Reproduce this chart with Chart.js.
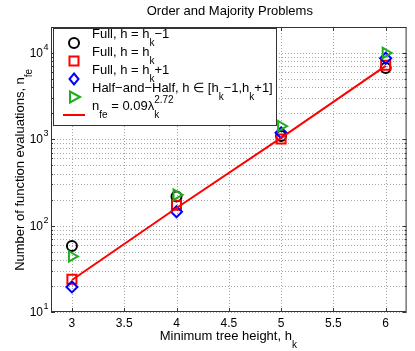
<!DOCTYPE html>
<html>
<head>
<meta charset="utf-8">
<script src="https://cdn.jsdelivr.net/npm/chart.js@4.4.1/dist/chart.umd.min.js"></script>
<style>
  html, body { margin: 0; padding: 0; background: #fff; }
  #wrap { width: 415px; height: 351px; }
</style>
</head>
<body>
<div id="wrap"><canvas id="chart" width="415" height="351"></canvas></div>
<script>
// ── DATA ──
const heights = [3, 4, 5, 6];
const fullMinus = [58, 218, 1090, 6700];   // Full, h = hk-1
const fullEq = [24, 172, 1010, 7200];      // Full, h = hk
const fullPlus = [19.5, 145, 1190, 8700];  // Full, h = hk+1
const halfHalf = [44, 228, 1420, 10000];   // Half-and-Half
const fitLine = [23.5, 160, 1040, 7100];   // nfe = 0.09 λk^2.72

const xTicks = [3, 3.5, 4, 4.5, 5, 5.5, 6];
const yMajor = [10, 100, 1000, 10000];
const yMinorSteps = [2, 3, 4, 5, 6, 7, 8, 9];

const FONT = '"Liberation Sans", Arial, Helvetica, sans-serif';
const GREEN = '#1fae1f';

// grid positions for the log axis (majors + 2..9 minors)
const yGrid = [];
yMajor.forEach(m => {
  yGrid.push(m);
  yMinorSteps.forEach(s => { if (m * s <= 20000) yGrid.push(m * s); });
});

function pts(vals) {
  return vals.map((v, i) => ({ x: heights[i], y: v }));
}

// ── HELPERS ──

// parts: [text, mode] mode: n normal, s sub, p sup, sp sub+sup stacked
function richText(ctx, x, y, parts, size) {
  const small = Math.round(size * 0.77);
  parts.forEach(([t, m, t2]) => {
    if (m === 'n') {
      ctx.font = size + 'px ' + FONT;
      ctx.fillText(t, x, y);
      x += ctx.measureText(t).width;
    } else if (m === 's') {
      ctx.font = small + 'px ' + FONT;
      ctx.fillText(t, x, y + 8);
      x += ctx.measureText(t).width;
    } else if (m === 'p') {
      ctx.font = small + 'px ' + FONT;
      ctx.fillText(t, x, y - 7);
      x += ctx.measureText(t).width;
    } else if (m === 'sp') {
      ctx.font = small + 'px ' + FONT;
      ctx.fillText(t, x, y + 8);
      ctx.fillText(t2, x, y - 7);
      x += Math.max(ctx.measureText(t).width, ctx.measureText(t2).width);
    }
  });
  return x;
}

function marker(ctx, kind, x, y) {
  ctx.save();
  ctx.lineWidth = 2;
  ctx.beginPath();
  if (kind === 'circle') {
    ctx.strokeStyle = '#000';
    ctx.arc(x, y, 5, 0, Math.PI * 2);
  } else if (kind === 'rect') {
    ctx.strokeStyle = '#ff0000';
    ctx.rect(x - 4.5, y - 4.5, 9, 9);
  } else if (kind === 'diamond') {
    ctx.strokeStyle = '#0000ff';
    ctx.moveTo(x, y - 5.5); ctx.lineTo(x + 4.5, y); ctx.lineTo(x, y + 5.5); ctx.lineTo(x - 4.5, y); ctx.closePath();
  } else if (kind === 'tri') {
    ctx.strokeStyle = GREEN;
    ctx.moveTo(x + 6, y); ctx.lineTo(x - 4, y - 5.5); ctx.lineTo(x - 4, y + 5.5); ctx.closePath();
  } else if (kind === 'line') {
    ctx.strokeStyle = '#ff0000';
    ctx.moveTo(x - 11, y); ctx.lineTo(x + 11, y);
  }
  ctx.stroke();
  ctx.restore();
}

// ── DOTTED GRID (drawn under the data) ──

const dottedGrid = {
  id: 'dottedGrid',
  beforeDatasetsDraw(chart) {
    const { ctx, chartArea: a, scales } = chart;
    ctx.save();
    ctx.strokeStyle = '#a8a8a8';
    ctx.lineWidth = 1;
    ctx.setLineDash([1, 2]);
    ctx.beginPath();
    xTicks.forEach(v => {
      const px = Math.round(scales.x.getPixelForValue(v)) + 0.5;
      ctx.moveTo(px, a.top); ctx.lineTo(px, a.bottom);
    });
    yGrid.forEach(v => {
      const py = Math.round(scales.y.getPixelForValue(v)) + 0.5;
      ctx.moveTo(a.left, py); ctx.lineTo(a.right, py);
    });
    ctx.stroke();
    ctx.restore();
  }
};

// ── DECORATIONS (title, axis titles, y labels, box, ticks, legend) ──

const decor = {
  id: 'decor',
  afterDraw(chart) {
    const { ctx, chartArea: a, scales } = chart;
    const xs = scales.x, ys = scales.y;
    ctx.save();
    ctx.fillStyle = '#000';
    ctx.textBaseline = 'alphabetic';

    // title
    ctx.font = '13px ' + FONT;
    ctx.textAlign = 'center';
    ctx.fillText('Order and Majority Problems', (a.left + a.right) / 2 + 1, 15);

    // y tick labels 10^n
    yMajor.forEach(v => {
      const py = ys.getPixelForValue(v);
      ctx.font = '12px ' + FONT;
      ctx.textAlign = 'right';
      ctx.fillText('10', 43, py + 4);
      ctx.font = '9px ' + FONT;
      ctx.textAlign = 'left';
      ctx.fillText(String(Math.round(Math.log10(v))), 43.5, py - 3);
    });

    // box + inward ticks
    ctx.strokeStyle = '#333';
    ctx.lineWidth = 1;
    ctx.strokeRect(a.left + 0.5, a.top + 0.5, a.right - a.left - 1, a.bottom - a.top - 1);
    ctx.beginPath();
    xTicks.forEach(v => {
      const px = Math.round(xs.getPixelForValue(v)) + 0.5;
      ctx.moveTo(px, a.bottom); ctx.lineTo(px, a.bottom - 4);
      ctx.moveTo(px, a.top); ctx.lineTo(px, a.top + 4);
    });
    yGrid.forEach(v => {
      const py = Math.round(ys.getPixelForValue(v)) + 0.5;
      const len = yMajor.includes(v) ? 4 : 2;
      ctx.moveTo(a.left, py); ctx.lineTo(a.left + len, py);
      ctx.moveTo(a.right, py); ctx.lineTo(a.right - len, py);
    });
    ctx.stroke();

    // x axis title
    ctx.textAlign = 'left';
    const xParts = [['Minimum tree height, h', 'n'], ['k', 's']];
    ctx.font = '13px ' + FONT;
    const xw = ctx.measureText('Minimum tree height, h').width + 6;
    richText(ctx, (a.left + a.right) / 2 - xw / 2, 340, xParts, 13);

    // y axis title (rotated)
    ctx.save();
    ctx.translate(24, (a.top + a.bottom) / 2);
    ctx.rotate(-Math.PI / 2);
    const yParts = [['Number of function evaluations, n', 'n'], ['fe', 's']];
    ctx.font = '13px ' + FONT;
    const yw = ctx.measureText('Number of function evaluations, n').width + 9;
    richText(ctx, -yw / 2, 0, yParts, 13);
    ctx.restore();

    // legend
    const lx = 53, ly = 28, lw = 223, lh = 97;
    ctx.fillStyle = '#fff';
    ctx.fillRect(lx, ly, lw, lh);
    ctx.strokeStyle = '#333';
    ctx.strokeRect(lx + 0.5, ly + 0.5, lw, lh);
    ctx.fillStyle = '#000';
    const rows = [
      ['circle', [['Full, h = h', 'n'], ['k', 's'], ['\u22121', 'n']]],
      ['rect', [['Full, h = h', 'n'], ['k', 's']]],
      ['diamond', [['Full, h = h', 'n'], ['k', 's'], ['+1', 'n']]],
      ['tri', [['Half\u2212and\u2212Half, h \u2208 [h', 'n'], ['k', 's'], ['\u22121,h', 'n'], ['k', 's'], ['+1]', 'n']]],
      ['line', [['n', 'n'], ['fe', 's'], [' = 0.09\u03bb', 'n'], ['k', 'sp', '2.72']]],
    ];
    rows.forEach(([kind, parts], i) => {
      const my = 43 + i * 18;
      marker(ctx, kind, 74, my);
      ctx.fillStyle = '#000';
      richText(ctx, 92, my - 5, parts, 13);
    });

    ctx.restore();
  }
};

// ── CHART ──

const ds = (label, vals, color, style, radius, order, rot) => ({
  label,
  data: pts(vals),
  showLine: false,
  pointStyle: style,
  pointRadius: radius,
  pointHoverRadius: radius,
  pointRotation: rot || 0,
  pointBorderWidth: 2,
  pointBorderColor: color,
  pointBackgroundColor: 'rgba(0,0,0,0)',
  borderColor: color,
  order,
});

new Chart(document.getElementById('chart'), {
  type: 'scatter',
  data: {
    datasets: [
      ds('Full, h = hk-1', fullMinus, '#000000', 'circle', 5, 5),
      ds('Full, h = hk', fullEq, '#ff0000', 'rect', 6.4, 4),
      ds('Full, h = hk+1', fullPlus, '#0000ff', 'rectRot', 5.5, 3),
      ds('Half-and-Half', halfHalf, GREEN, 'triangle', 6, 2, 90),
      {
        label: 'fit',
        data: pts(fitLine),
        showLine: true,
        borderColor: '#ff0000',
        borderWidth: 2,
        pointRadius: 0,
        pointHoverRadius: 0,
        order: 1,
      },
    ]
  },
  options: {
    responsive: false,
    animation: false,
    devicePixelRatio: 1,
    layout: { padding: { top: 27, right: 3, left: 0, bottom: 0 } },
    plugins: { legend: { display: false }, tooltip: { enabled: false }, title: { display: false } },
    scales: {
      x: {
        type: 'linear',
        min: 2.8,
        max: 6.2,
        afterBuildTicks: axis => { axis.ticks = xTicks.map(v => ({ value: v })); },
        afterFit: scale => { scale.height = 39; },
        grid: { drawOnChartArea: false, drawTicks: false, color: 'rgba(0,0,0,0)' },
        border: { display: false },
        ticks: {
          color: '#000', font: { family: FONT, size: 12 }, padding: 4, autoSkip: false, maxRotation: 0,
          callback: v => String(v),
        },
      },
      y: {
        type: 'logarithmic',
        min: 10,
        max: 20000,
        afterBuildTicks: axis => { axis.ticks = yGrid.map(v => ({ value: v })); },
        afterFit: scale => { scale.width = 51; },
        grid: { drawOnChartArea: false, drawTicks: false, color: 'rgba(0,0,0,0)' },
        border: { display: false },
        ticks: { display: false, autoSkip: false },
      }
    }
  },
  plugins: [dottedGrid, decor]
});
</script>
</body>
</html>
